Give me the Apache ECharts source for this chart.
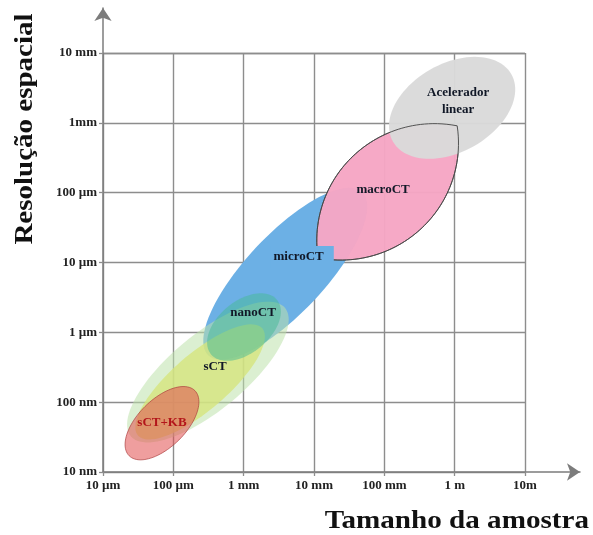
<!DOCTYPE html>
<html><head><meta charset="utf-8">
<script src="https://cdn.jsdelivr.net/npm/echarts@6/dist/echarts.min.js"></script>
<style>html,body{margin:0;padding:0;background:#fff}#c{width:593px;height:535px}</style>
</head><body><div id="c"></div>
<script>
// ---- axes / tick labels ----
const xTickLabels = ['10 µm','100 µm','1 mm','10 mm','100 mm','1 m','10m'];
const yTickLabels = ['10 nm','100 nm','1 µm','10 µm','100 µm','1mm','10 mm'];
const xMin = 1e-5, xMax = 10;     // sample size (m)
const yMin = 1e-8, yMax = 1e-2;   // spatial resolution (m)

// ---- elliptical regions (centre in metres, semi-axes in decades, tilt in degrees) ----
const regionNames  = ['microCT','sCT halo','sCT','nanoCT','sCT+KB'];
const regionSize   = [3.9e-3, 3.1e-4, 2.4e-4, 1.01e-3, 6.9e-5];
const regionRes    = [6.9e-6, 2.7e-7, 1.95e-7, 1.19e-6, 5.0e-8];
const regionMajor  = [1.6, 1.43, 1.17, 0.61, 0.66];
const regionMinor  = [0.56, 0.54, 0.40, 0.37, 0.34];
const regionAngle  = [47, 40, 41, 40, 45];

const accelSize = [0.92], accelRes = [1.64e-3], accelMajor = [0.97], accelMinor = [0.63], accelAngle = [30];

// ---- macroCT lens: two corners and bulge (decades) ----
const macroSize = [0.01143, 1.086];
const macroRes  = [1.164e-5, 9.06e-4];
const macroBulge = 0.71;

// ---- labels ----
const labelTexts = ['Acelerador\nlinear','macroCT','microCT','nanoCT','sCT','sCT+KB'];
const labelSize  = [1.12, 0.0961, 6.78e-3, 1.36e-3, 3.92e-4, 6.9e-5];
const labelRes   = [2.07e-3, 1.10e-4, 1.20e-5, 1.90e-6, 3.19e-7, 5.04e-8];

const regionColors = ['rgba(108,176,229,1)','rgba(190,226,172,0.55)','rgba(214,229,125,0.8)','rgba(70,185,150,0.5)','rgba(226,78,78,0.55)'];
const regionBorders = [null,null,null,null,'rgba(170,60,60,0.75)'];

function ellipsePts(sz, rs, a, b, ang, api){
  const lx = Math.log10(sz), ly = Math.log10(rs), t = ang*Math.PI/180, pts=[];
  for(let i=0;i<96;i++){
    const u=i/96*2*Math.PI, dx=a*Math.cos(u), dy=b*Math.sin(u);
    const X=lx+dx*Math.cos(t)-dy*Math.sin(t), Y=ly+dx*Math.sin(t)+dy*Math.cos(t);
    pts.push(api.coord([Math.pow(10,X), Math.pow(10,Y)]));
  }
  return pts;
}
function lensPts(api){
  const ax=Math.log10(macroSize[0]), ay=Math.log10(macroRes[0]);
  const bx=Math.log10(macroSize[1]), by=Math.log10(macroRes[1]);
  const mx=(ax+bx)/2, my=(ay+by)/2, L=Math.hypot(bx-ax,by-ay)/2;
  const dx=(bx-ax)/(2*L), dy=(by-ay)/(2*L), nx=-dy, ny=dx;
  const s=macroBulge, R=(L*L+s*s)/(2*s), pts=[], N=60;
  const off=u=>Math.sqrt(Math.max(R*R-u*u,0))-(R-s);
  for(let i=0;i<=N;i++){const u=-L+2*L*i/N,o=off(u);pts.push([mx+dx*u+nx*o,my+dy*u+ny*o]);}
  for(let i=N-1;i>0;i--){const u=-L+2*L*i/N,o=off(u);pts.push([mx+dx*u-nx*o,my+dy*u-ny*o]);}
  return pts.map(p=>api.coord([Math.pow(10,p[0]),Math.pow(10,p[1])]));
}
const fmt = (arr, base) => v => { const k=Math.round(Math.log10(v))-base; return arr[k]!==undefined?arr[k]:''; };
const serif = '"Liberation Serif","Times New Roman",serif';

const chart = echarts.init(document.getElementById('c'), null, {renderer:'canvas'});
const gridColor = '#8d8d8d';
chart.setOption({
  animation:false,
  grid:[
    {left:103, right:68, top:53, bottom:63},
    {left:103, right:13, top:8, bottom:63}
  ],
  xAxis:[
    {type:'log', gridIndex:0, min:xMin, max:xMax, logBase:10, splitNumber:6,
     axisLine:{show:false}, axisTick:{show:true,length:4,lineStyle:{color:gridColor,width:1.3}},
     axisLabel:{formatter:fmt(xTickLabels,-5), fontFamily:serif, fontWeight:'bold', fontSize:13, color:'#222', margin:7},
     splitLine:{show:true,lineStyle:{color:gridColor,width:1.4}}},
    {type:'value', gridIndex:1, min:0, max:1, axisLine:{show:true,symbol:['none','arrow'],symbolSize:[13,13],lineStyle:{color:'#7c7c7c',width:1.5}},
     axisTick:{show:false}, axisLabel:{show:false}, splitLine:{show:false}}
  ],
  yAxis:[
    {type:'log', gridIndex:0, min:yMin, max:yMax, logBase:10, splitNumber:6,
     axisLine:{show:false}, axisTick:{show:true,length:4,lineStyle:{color:gridColor,width:1.3}},
     axisLabel:{formatter:fmt(yTickLabels,-8), fontFamily:serif, fontWeight:'bold', fontSize:13, color:'#222', margin:6},
     splitLine:{show:true,lineStyle:{color:gridColor,width:1.4}}},
    {type:'value', gridIndex:1, min:0, max:1, axisLine:{show:true,symbol:['none','arrow'],symbolSize:[13,13],lineStyle:{color:'#7c7c7c',width:1.5}},
     axisTick:{show:false}, axisLabel:{show:false}, splitLine:{show:false}}
  ],
  series:[
    {type:'custom', name:'regions', xAxisIndex:0, yAxisIndex:0, z:2, encode:{x:0,y:1},
     data: regionNames.map((n,i)=>[regionSize[i],regionRes[i],regionMajor[i],regionMinor[i],regionAngle[i]]),
     renderItem:(p,api)=>{ const i=p.dataIndex;
       return {type:'polygon', shape:{points:ellipsePts(api.value(0),api.value(1),api.value(2),api.value(3),api.value(4),api)},
         style:{fill:regionColors[i], stroke:regionBorders[i]||null, lineWidth:regionBorders[i]?0.9:0}}; }},
    {type:'custom', name:'macroCT', xAxisIndex:0, yAxisIndex:0, z:3, encode:{x:0,y:1},
     data:[[macroSize[0],macroRes[0]]],
     renderItem:(p,api)=>({type:'polygon', shape:{points:lensPts(api)}, style:{fill:'rgba(246,166,196,0.97)', stroke:'#555', lineWidth:0.9}})},
    {type:'custom', name:'Acelerador linear', xAxisIndex:0, yAxisIndex:0, z:4, encode:{x:0,y:1},
     data: accelSize.map((s,i)=>[s,accelRes[i],accelMajor[i],accelMinor[i],accelAngle[i]]),
     renderItem:(p,api)=>({type:'polygon', shape:{points:ellipsePts(api.value(0),api.value(1),api.value(2),api.value(3),api.value(4),api)}, style:{fill:'rgba(218,218,218,0.97)'}})},
    {type:'custom', name:'macroCT outline', xAxisIndex:0, yAxisIndex:0, z:5, encode:{x:0,y:1},
     data:[[macroSize[0],macroRes[0]]],
     renderItem:(p,api)=>({type:'polygon', shape:{points:lensPts(api)}, style:{fill:null, stroke:'#444', lineWidth:0.9}})},
    {type:'custom', name:'labels', xAxisIndex:0, yAxisIndex:0, z:6, encode:{x:0,y:1},
     data: labelTexts.map((t,i)=>[labelSize[i],labelRes[i]]),
     renderItem:(p,api)=>{ const i=p.dataIndex, c=api.coord([api.value(0),api.value(1)]);
       const t=labelTexts[i];
       const st={text:t, font:'bold 13px '+serif, fill: t==='sCT+KB'?'#b3161b':'#111827', align:'center', verticalAlign:'middle', lineHeight:17};
       if(t==='microCT'){ st.backgroundColor='rgb(108,176,229)'; st.padding=[3,10,2,3]; }
       return {type:'text', x:c[0], y:c[1], style:st}; }}
  ],
  graphic:[
    {type:'text', x:26, y:129, rotation:Math.PI/2, scaleX:1.16, style:{text:'Resolução espacial', font:'bold 25px '+serif, fill:'#111', align:'center', verticalAlign:'middle'}},
    {type:'text', x:589, y:521, scaleX:1.12, style:{text:'Tamanho da amostra', font:'bold 26px '+serif, fill:'#111', align:'right', verticalAlign:'middle'}}
  ]
});
</script></body></html>
